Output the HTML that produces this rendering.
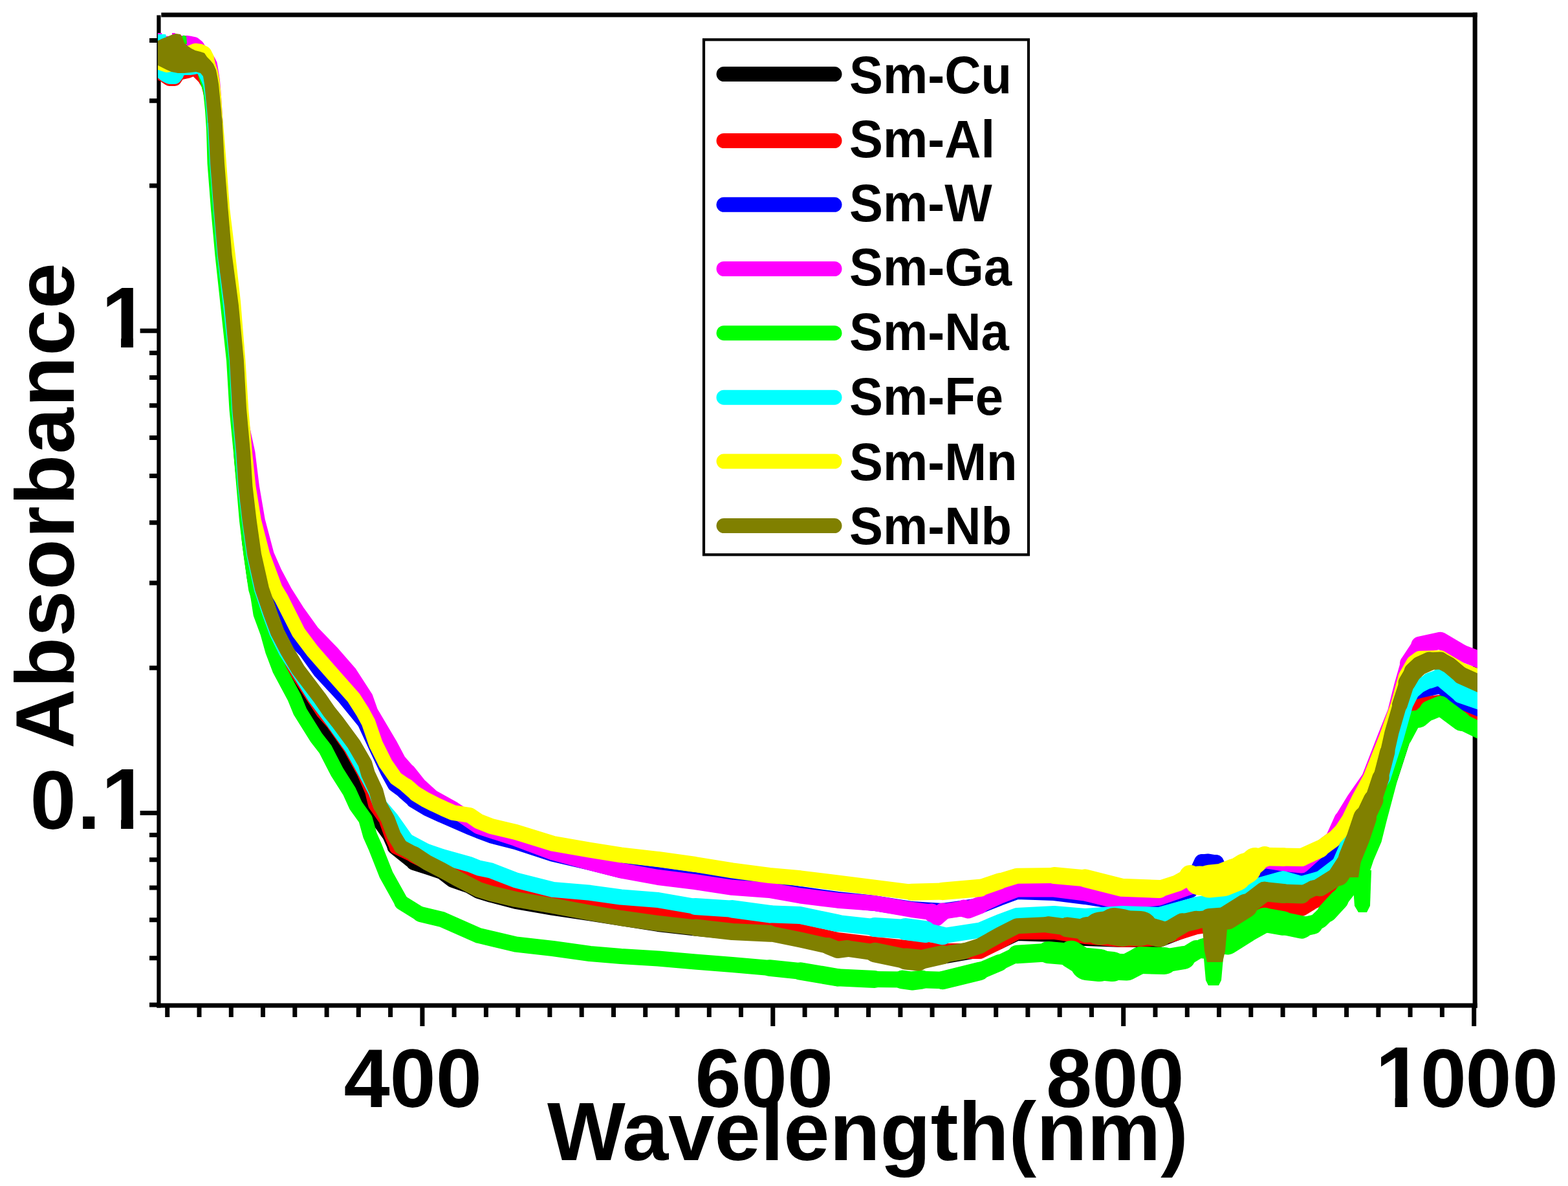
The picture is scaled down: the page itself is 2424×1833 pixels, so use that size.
<!DOCTYPE html>
<html><head><meta charset="utf-8"><title>Absorbance vs Wavelength</title>
<style>html,body{margin:0;padding:0;background:#fff;}svg{display:block}</style></head>
<body>
<svg width="2424" height="1833" viewBox="0 0 2424 1833" xmlns="http://www.w3.org/2000/svg">
<rect width="2424" height="1833" fill="#fff"/>
<path d="M249.3,23.0H2283.8" stroke="#000" stroke-width="7.2" fill="none"/><path d="M2280.2,19.4V1557.8" stroke="#000" stroke-width="7.1" fill="none"/><path d="M242.5,1554.0H2283.8" stroke="#000" stroke-width="7.2" fill="none"/><path d="M245.45,23.5V1557.6" stroke="#000" stroke-width="6.2" fill="none"/><path d="M231.0,1553.0H245.5 M231.0,1480.8H245.5 M231.0,1421.8H245.5 M231.0,1371.9H245.5 M231.0,1328.7H245.5 M231.0,1290.6H245.5 M216.6,1256.5H245.5 M231.0,1032.2H245.5 M231.0,900.9H245.5 M231.0,807.8H245.5 M231.0,735.6H245.5 M231.0,676.6H245.5 M231.0,626.7H245.5 M231.0,583.5H245.5 M231.0,545.4H245.5 M216.6,511.3H245.5 M231.0,287.0H245.5 M231.0,155.7H245.5 M231.0,62.6H245.5 M652.9,1554.0V1586 M603.6,1554.0V1572 M554.3,1554.0V1572 M505.1,1554.0V1572 M455.8,1554.0V1572 M406.5,1554.0V1572 M357.3,1554.0V1572 M308.0,1554.0V1572 M258.7,1554.0V1572 M702.1,1554.0V1572 M751.4,1554.0V1572 M800.7,1554.0V1572 M849.9,1554.0V1572 M899.2,1554.0V1572 M948.5,1554.0V1572 M997.7,1554.0V1572 M1047.0,1554.0V1572 M1096.3,1554.0V1572 M1145.5,1554.0V1572 M1194.8,1554.0V1586 M1244.1,1554.0V1572 M1293.3,1554.0V1572 M1342.6,1554.0V1572 M1391.9,1554.0V1572 M1441.1,1554.0V1572 M1490.4,1554.0V1572 M1539.7,1554.0V1572 M1588.9,1554.0V1572 M1638.2,1554.0V1572 M1687.5,1554.0V1572 M1736.7,1554.0V1586 M1786.0,1554.0V1572 M1835.3,1554.0V1572 M1884.5,1554.0V1572 M1933.8,1554.0V1572 M1983.1,1554.0V1572 M2032.3,1554.0V1572 M2081.6,1554.0V1572 M2130.9,1554.0V1572 M2180.1,1554.0V1572 M2229.4,1554.0V1572 M2278.7,1554.0V1586" stroke="#000" stroke-width="7" fill="none"/>
<defs><clipPath id="pc"><rect x="244" y="0" width="2040" height="1560"/></clipPath></defs>
<g clip-path="url(#pc)" fill="none" stroke-linejoin="round" stroke-linecap="round">
<g stroke="#000000">
<path d="M244.0,95.0 L265.0,100.0 L285.0,100.0 L305.0,98.0 L316.0,110.0 L324.0,130.0 L328.0,160.0 L331.0,190.0 L334.0,252.0 L340.0,323.0 L346.0,395.0 L354.5,470.0 L363.0,557.0 L368.0,633.0 L373.0,710.0 L380.0,780.0 L385.0,837.0 L393.0,895.0 L405.0,952.0 L425.0,1009.0 L450.0,1045.0 L472.0,1078.0 L480.0,1090.0 L496.0,1116.5 L525.0,1155.0 L545.0,1193.0 L559.0,1220.0 L568.0,1243.5 L584.0,1266.0 L602.0,1291.0 L610.0,1309.0" stroke-width="22.0"/>
<path d="M610.0,1309.0 L640.0,1333.0" stroke-width="23.0"/>
<path d="M640.0,1333.0 L662.0,1340.0 L683.0,1347.0 L700.0,1360.0 L726.0,1369.0 L740.0,1377.0 L759.4,1383.0 L797.4,1393.0 L854.8,1403.0 L912.1,1411.5 L969.5,1420.5 L1017.4,1428.0 L1074.8,1434.5 L1132.1,1440.0 L1189.5,1437.0 L1237.4,1442.0 L1294.8,1455.0 L1352.1,1465.0 L1409.5,1475.0 L1457.4,1478.0 L1514.8,1468.0 L1545.0,1455.0 L1572.1,1442.0 L1629.5,1444.0 L1677.4,1450.0 L1734.8,1452.0 L1792.1,1452.0 L1849.5,1430.0 L1900.0,1420.0 L1954.8,1390.0 L1983.5,1395.0 L2012.1,1402.0 L2040.8,1385.0" stroke-width="24.0"/>
<path d="M2040.8,1385.0 L2069.5,1372.0" stroke-width="23.0"/>
<path d="M2069.5,1372.0 L2090.0,1345.0 L2110.0,1300.0 L2128.0,1262.0 L2150.0,1202.0 L2170.0,1140.0 L2190.0,1100.0 L2226.8,1090.0 L2259.0,1098.0 L2288.0,1108.0" stroke-width="22.0"/>
</g>
<g stroke="#ff0000">
<path d="M244.0,112.0 L252.0,115.0 L262.0,122.0 L270.0,122.0 L276.0,113.0 L290.0,110.0 L300.0,106.0 L306.0,110.0 L310.0,114.0 L316.0,120.0 L322.0,130.0 L327.0,150.0 L330.0,170.0 L332.0,200.0 L335.0,252.0 L340.0,323.0 L346.0,395.0 L354.5,470.0 L363.0,557.0 L367.5,633.0 L374.0,700.0 L378.0,752.6 L384.0,805.0 L391.0,857.7 L402.0,910.0 L414.0,948.7 L425.0,977.4 L439.0,1006.0 L459.7,1040.0 L484.5,1078.0 L499.0,1100.0 L514.0,1116.5 L541.0,1155.0 L562.0,1193.0 L575.0,1223.0 L580.0,1243.5 L596.0,1266.0 L605.0,1291.0 L613.0,1309.0" stroke-width="22.0"/>
<path d="M613.0,1309.0 L640.0,1322.0" stroke-width="23.0"/>
<path d="M640.0,1322.0 L668.0,1336.0 L700.0,1352.0 L726.4,1360.0 L740.0,1364.0 L797.4,1380.0 L854.8,1390.0 L912.1,1400.0 L969.5,1410.0 L1017.4,1414.0 L1074.8,1421.0 L1132.1,1428.0 L1189.5,1432.0 L1237.4,1440.0 L1294.8,1453.0 L1352.1,1460.0 L1409.5,1466.0 L1457.4,1470.0 L1514.8,1470.0 L1545.0,1455.0 L1572.1,1440.0 L1629.5,1440.0 L1677.4,1447.0 L1734.8,1452.0 L1792.1,1450.0 L1849.5,1432.0 L1900.0,1425.0 L1954.8,1392.0 L1983.5,1397.0 L2012.1,1404.0 L2030.0,1393.0 L2051.5,1384.0" stroke-width="24.0"/>
<path d="M2051.5,1384.0 L2069.5,1364.0" stroke-width="23.0"/>
<path d="M2069.5,1364.0 L2080.0,1354.0 L2090.0,1335.0 L2110.0,1280.0 L2135.0,1210.0 L2155.0,1150.0 L2170.0,1110.0 L2194.6,1088.0 L2226.8,1085.0 L2259.0,1094.0 L2288.0,1107.0" stroke-width="22.0"/>
</g>
<g stroke="#0000ff">
<path d="M244.0,72.0 L270.0,72.0 L290.0,78.0 L305.0,88.0 L316.0,100.0 L324.0,120.0 L328.0,150.0 L331.0,190.0 L335.0,252.0 L341.0,323.0 L347.7,395.0 L358.0,466.0 L366.0,557.0 L371.0,633.0 L378.0,710.0 L386.0,780.0 L394.0,837.0 L410.0,895.0 L421.6,920.0 L432.4,948.7 L443.5,977.4 L472.0,1006.0 L494.0,1037.0 L532.0,1078.0 L563.0,1116.0 L581.0,1155.0 L599.0,1193.0 L610.0,1213.0 L625.0,1224.0" stroke-width="22.0"/>
<path d="M625.0,1224.0 L640.0,1237.0" stroke-width="23.0"/>
<path d="M640.0,1237.0 L660.0,1249.0 L683.4,1259.8 L726.4,1278.4 L740.0,1284.0 L759.4,1291.3 L797.4,1301.2 L854.8,1319.8 L912.1,1333.0 L960.0,1345.0 L1017.4,1352.0 L1074.8,1360.0 L1132.1,1368.0 L1189.5,1374.0 L1237.4,1382.0 L1294.8,1390.0 L1352.1,1396.0 L1409.5,1405.0 L1457.4,1408.0 L1514.8,1400.0 L1545.0,1388.0 L1572.1,1378.0 L1629.5,1380.0 L1677.4,1386.0 L1734.8,1395.0 L1792.1,1390.0 L1840.0,1376.0 L1852.0,1345.0 L1858.0,1332.0" stroke-width="24.0"/>
<path d="M1858.0,1332.0 L1868.0,1331.0 L1880.0,1333.0" stroke-width="23.0"/>
<path d="M1880.0,1333.0 L1888.0,1350.0 L1900.0,1360.0 L1954.8,1346.0 L1983.5,1352.0 L2012.1,1352.0 L2040.8,1333.0 L2060.0,1320.0" stroke-width="24.0"/>
<path d="M2060.0,1320.0 L2072.0,1308.0" stroke-width="23.0"/>
<path d="M2072.0,1308.0 L2080.0,1295.0 L2090.0,1270.0 L2120.0,1210.0 L2145.0,1140.0 L2158.0,1100.0 L2172.0,1075.0 L2194.6,1068.0 L2226.8,1061.0 L2259.0,1085.0 L2288.0,1097.0" stroke-width="22.0"/>
</g>
<g stroke="#ff00ff">
<path d="M244.0,66.0 L262.0,67.0 L280.0,66.0 L288.0,66.0 L295.0,67.0 L300.0,68.0 L305.0,72.0 L310.0,80.0 L316.0,88.0 L322.0,94.0 L325.0,100.0 L327.0,112.0 L329.0,125.0 L331.0,150.0 L333.0,180.0 L335.0,215.0 L338.0,252.0 L343.0,323.0 L349.0,395.0 L357.0,470.0 L365.0,557.0 L370.0,633.0 L377.0,670.0 L383.5,700.0 L390.0,752.6 L399.0,805.0 L413.0,857.7 L425.0,885.0 L441.0,915.0 L460.0,945.0 L483.0,977.0 L514.0,1009.0 L541.0,1040.0 L565.6,1078.0 L573.4,1100.0 L590.0,1128.0 L603.0,1150.0 L616.6,1175.6 L631.7,1193.0" stroke-width="22.0"/>
<path d="M631.7,1193.0 L650.0,1216.0" stroke-width="23.0"/>
<path d="M650.0,1216.0 L667.6,1232.0 L700.0,1250.0 L740.0,1277.3 L797.4,1295.9 L854.8,1317.5 L912.1,1333.2 L960.0,1345.5 L1017.4,1356.0 L1074.8,1363.2 L1132.1,1371.8 L1189.5,1376.0 L1237.4,1384.5 L1294.8,1391.7 L1352.1,1396.0 L1409.5,1406.0 L1440.0,1410.0" stroke-width="24.0"/>
<path d="M1440.0,1410.0 L1447.0,1418.0 L1457.4,1409.0" stroke-width="27.0"/>
<path d="M1457.4,1409.0 L1490.0,1404.0" stroke-width="24.0"/>
<path d="M1490.0,1404.0 L1497.0,1406.0 L1514.8,1399.0" stroke-width="27.0"/>
<path d="M1514.8,1399.0 L1545.0,1385.0 L1572.1,1374.5 L1629.5,1374.5 L1677.4,1380.5 L1734.8,1394.5 L1792.1,1387.5 L1849.5,1367.5 L1900.0,1362.0 L1954.8,1330.0 L1983.5,1334.5 L2012.1,1337.5 L2040.8,1312.0 L2060.0,1297.0" stroke-width="24.0"/>
<path d="M2060.0,1297.0 L2074.0,1266.0" stroke-width="23.0"/>
<path d="M2074.0,1266.0 L2093.0,1235.0 L2116.0,1202.0 L2140.0,1140.0 L2156.0,1100.0 L2166.0,1060.0 L2176.0,1025.0" stroke-width="22.0"/>
<path d="M2176.0,1025.0 L2194.6,997.0" stroke-width="24.0"/>
<path d="M2194.6,997.0 L2226.8,990.0 L2259.0,1009.0" stroke-width="26.5"/>
<path d="M2259.0,1009.0 L2288.0,1020.0" stroke-width="26.0"/>
<path d="M244.0,51.0 L250.0,51.0 L251.0,57.0 L244.0,57.0Z" fill="#ff00ff" stroke="none"/>
<path d="M266.0,51.0 L271.0,51.0 L271.0,56.0 L266.0,56.0Z" fill="#ff00ff" stroke="none"/>
</g>
<g stroke="#00ff00">
<path d="M244.0,80.0 L262.0,80.0 L276.0,80.0 L285.0,82.0 L292.0,86.0 L300.0,90.0 L308.0,96.0 L314.0,104.0 L318.0,118.0 L325.0,140.0 L328.0,170.0 L330.0,200.0 L331.5,252.0 L337.0,323.0 L343.5,395.0 L352.0,473.0 L361.0,557.0 L365.5,633.0 L372.0,700.0 L376.5,752.6 L381.0,805.0 L387.5,857.7 L395.0,910.0 L398.0,920.0 L402.4,948.7 L413.0,977.4 L421.0,1006.0 L432.0,1035.0 L455.0,1078.0 L464.0,1100.0 L474.0,1116.0 L489.0,1140.0 L503.0,1158.0 L521.0,1193.0 L540.0,1223.0 L550.0,1245.0 L565.0,1266.0 L572.0,1291.0 L580.0,1309.0 L597.0,1352.0 L621.0,1395.0" stroke-width="22.0"/>
<path d="M621.0,1395.0 L650.0,1413.0" stroke-width="23.0"/>
<path d="M650.0,1413.0 L683.4,1421.0 L740.0,1445.9 L797.4,1459.5 L854.8,1466.0 L912.1,1474.0 L960.0,1478.0 L1017.4,1481.5 L1074.8,1486.5 L1132.1,1491.0 L1189.5,1496.0" stroke-width="24.0"/>
<path d="M1189.5,1496.0 L1237.4,1501.0" stroke-width="25.5"/>
<path d="M1237.4,1501.0 L1294.8,1510.7" stroke-width="27.5"/>
<path d="M1294.8,1510.7 L1352.1,1513.6" stroke-width="27.0"/>
<path d="M1352.1,1513.6 L1395.0,1514.0" stroke-width="25.0"/>
<path d="M1395.0,1514.0 L1409.5,1516.0 L1425.0,1514.0" stroke-width="29.0"/>
<path d="M1425.0,1514.0 L1457.4,1515.0" stroke-width="26.5"/>
<path d="M1457.4,1515.0 L1514.8,1500.8" stroke-width="28.5"/>
<path d="M1514.8,1500.8 L1545.0,1488.0" stroke-width="26.0"/>
<path d="M1545.0,1488.0 L1572.1,1475.0" stroke-width="24.0"/>
<path d="M1572.1,1475.0 L1620.0,1472.0" stroke-width="28.5"/>
<path d="M1620.0,1472.0 L1656.0,1475.0" stroke-width="34.0"/>
<path d="M1656.0,1475.0 L1680.0,1490.0" stroke-width="42.5"/>
<path d="M1680.0,1490.0 L1700.0,1492.0" stroke-width="50.0"/>
<path d="M1700.0,1492.0 L1720.0,1494.0" stroke-width="46.0"/>
<path d="M1720.0,1494.0 L1742.0,1495.0 L1763.0,1484.0" stroke-width="41.0"/>
<path d="M1763.0,1484.0 L1800.0,1485.0" stroke-width="42.0"/>
<path d="M1800.0,1485.0 L1830.0,1480.0" stroke-width="36.0"/>
<path d="M1830.0,1480.0 L1849.5,1468.0" stroke-width="30.0"/>
<path d="M1849.5,1468.0 L1860.0,1466.0" stroke-width="27.0"/>
<path d="M1860.0,1466.0 L1897.4,1456.0" stroke-width="31.0"/>
<path d="M1897.4,1456.0 L1926.0,1438.0" stroke-width="39.0"/>
<path d="M1926.0,1438.0 L1954.8,1422.0" stroke-width="38.5"/>
<path d="M1954.8,1422.0 L1983.5,1427.0" stroke-width="37.5"/>
<path d="M1983.5,1427.0 L2012.1,1433.0" stroke-width="35.5"/>
<path d="M2012.1,1433.0 L2030.0,1429.0" stroke-width="29.5"/>
<path d="M2030.0,1429.0 L2040.8,1421.0" stroke-width="26.0"/>
<path d="M2040.8,1421.0 L2052.0,1410.0" stroke-width="27.0"/>
<path d="M2052.0,1410.0 L2069.5,1391.0" stroke-width="30.5"/>
<path d="M2069.5,1391.0 L2090.0,1365.0" stroke-width="27.5"/>
<path d="M2090.0,1365.0 L2105.0,1350.0 L2113.0,1326.0 L2125.0,1298.0 L2133.0,1266.0 L2150.0,1202.0 L2170.0,1140.0" stroke-width="22.0"/>
<path d="M2170.0,1140.0 L2185.0,1112.0" stroke-width="25.0"/>
<path d="M2185.0,1112.0 L2194.6,1111.0 L2210.0,1098.0" stroke-width="27.0"/>
<path d="M2210.0,1098.0 L2226.8,1091.0" stroke-width="31.0"/>
<path d="M2226.8,1091.0 L2259.0,1115.0" stroke-width="30.0"/>
<path d="M2259.0,1115.0 L2288.0,1129.0" stroke-width="26.0"/>
<path d="M280.0,57.0 L284.0,54.5 L288.0,56.0 L289.0,68.0 L281.0,68.0Z" fill="#00ff00" stroke="none"/>
<path d="M1860.0,1470.0 L1864.0,1515.0 L1868.0,1523.0 L1884.0,1523.0 L1888.0,1515.0 L1892.0,1470.0Z" fill="#00ff00" stroke="none"/>
<path d="M2090.0,1345.0 L2094.0,1400.0 L2100.0,1410.0 L2113.0,1410.0 L2118.0,1400.0 L2120.0,1345.0Z" fill="#00ff00" stroke="none"/>
</g>
<g stroke="#00ffff">
<path d="M244.0,107.0 L250.0,111.0 L256.0,116.0 L262.0,119.0 L270.0,119.0 L273.0,115.0 L276.0,107.0 L285.0,105.0 L293.0,105.0 L300.0,104.0 L305.0,103.0 L310.0,104.0 L315.0,108.0 L320.0,118.0 L325.0,130.0 L328.0,150.0 L330.0,170.0 L332.0,200.0 L335.0,252.0 L340.5,323.0 L346.7,395.0 L356.0,473.0 L365.0,557.0 L369.0,633.0 L375.0,700.0 L378.5,752.6 L384.7,805.0 L392.0,857.7 L403.5,910.0 L416.5,948.7 L427.0,977.4 L441.0,1006.0 L462.6,1040.0 L486.5,1078.0 L515.5,1116.5 L543.0,1155.0 L564.0,1193.0 L580.0,1223.0 L588.0,1245.0 L606.0,1266.0 L630.0,1300.0" stroke-width="22.0"/>
<path d="M630.0,1300.0 L660.0,1316.0" stroke-width="23.0"/>
<path d="M660.0,1316.0 L683.4,1324.0 L726.4,1336.0 L740.0,1341.5 L759.4,1345.6 L797.4,1360.4 L854.8,1374.9 L912.1,1379.8 L960.0,1386.5 L1017.4,1391.0 L1074.8,1401.0" stroke-width="24.0"/>
<path d="M1074.8,1401.0 L1132.1,1404.8" stroke-width="26.0"/>
<path d="M1132.1,1404.8 L1189.5,1412.7" stroke-width="27.5"/>
<path d="M1189.5,1412.7 L1237.4,1414.6 L1294.8,1426.8" stroke-width="27.0"/>
<path d="M1294.8,1426.8 L1352.1,1433.0" stroke-width="25.5"/>
<path d="M1352.1,1433.0 L1400.0,1436.0" stroke-width="30.0"/>
<path d="M1400.0,1436.0 L1430.0,1440.0" stroke-width="34.0"/>
<path d="M1430.0,1440.0 L1457.4,1446.3" stroke-width="28.0"/>
<path d="M1457.4,1446.3 L1514.8,1437.7 L1545.0,1425.0 L1572.1,1415.0 L1629.5,1412.0 L1677.4,1416.0 L1734.8,1412.0 L1792.1,1414.0 L1849.5,1398.0 L1897.4,1390.0 L1926.0,1374.0 L1954.8,1366.0 L1983.5,1358.0 L2012.1,1366.0 L2040.8,1358.0" stroke-width="24.0"/>
<path d="M2040.8,1358.0 L2069.5,1336.0" stroke-width="23.0"/>
<path d="M2069.5,1336.0 L2085.0,1300.0 L2100.0,1265.0 L2139.0,1202.0 L2159.2,1140.0 L2173.4,1089.0 L2183.0,1070.0 L2194.6,1060.0 L2210.0,1052.0" stroke-width="22.0"/>
<path d="M2210.0,1052.0 L2226.8,1046.0" stroke-width="24.5"/>
<path d="M2226.8,1046.0 L2259.0,1073.0" stroke-width="27.5"/>
<path d="M2259.0,1073.0 L2288.0,1083.0" stroke-width="28.0"/>
<path d="M244.0,53.0 L256.0,53.0 L258.0,60.0 L252.0,64.0 L244.0,64.0Z" fill="#00ffff" stroke="none"/>
</g>
<g stroke="#ffff00">
<path d="M244.0,96.0 L258.0,101.0 L270.0,99.0 L280.0,90.0 L292.0,82.0 L302.0,78.0 L310.0,79.0 L316.0,82.0 L320.0,90.0 L322.0,100.0 L326.0,112.0 L328.5,125.0 L331.0,150.0 L333.0,180.0 L336.0,215.0 L339.0,252.0 L344.2,323.0 L353.0,395.0 L361.0,466.0 L368.4,557.0 L373.2,633.0 L379.0,700.0 L384.5,752.6 L393.0,805.0 L406.5,857.7 L426.0,910.0 L435.0,925.0 L447.0,948.7 L461.5,977.4 L483.0,1006.0 L512.7,1040.0 L546.6,1078.3 L560.5,1100.0 L569.5,1116.5 L581.0,1150.0 L596.0,1180.0 L612.0,1203.0 L628.7,1214.5" stroke-width="22.0"/>
<path d="M628.7,1214.5 L643.0,1227.0" stroke-width="23.0"/>
<path d="M643.0,1227.0 L657.4,1235.7 L671.7,1243.0 L686.0,1249.7 L700.4,1256.0 L726.4,1260.0 L740.0,1269.4 L759.4,1277.0 L797.4,1286.0 L854.8,1303.8 L912.1,1313.8 L960.0,1321.3 L1017.4,1328.0 L1074.8,1336.0 L1132.1,1345.3 L1189.5,1353.0 L1237.4,1357.3 L1294.8,1364.5 L1352.1,1371.7 L1409.5,1378.8" stroke-width="24.0"/>
<path d="M1409.5,1378.8 L1457.4,1377.4" stroke-width="26.0"/>
<path d="M1457.4,1377.4 L1514.8,1372.4" stroke-width="27.5"/>
<path d="M1514.8,1372.4 L1545.0,1362.0" stroke-width="25.5"/>
<path d="M1545.0,1362.0 L1572.1,1353.8 L1629.5,1353.0" stroke-width="24.0"/>
<path d="M1629.5,1353.0 L1677.4,1357.4" stroke-width="26.0"/>
<path d="M1677.4,1357.4 L1734.8,1371.8 L1792.1,1374.0" stroke-width="28.0"/>
<path d="M1792.1,1374.0 L1820.0,1365.0 L1840.0,1354.0" stroke-width="26.0"/>
<path d="M1840.0,1354.0 L1854.0,1361.0" stroke-width="34.0"/>
<path d="M1854.0,1361.0 L1870.0,1362.0" stroke-width="45.0"/>
<path d="M1870.0,1362.0 L1890.0,1360.0 L1910.0,1352.0" stroke-width="51.0"/>
<path d="M1910.0,1352.0 L1926.0,1342.0" stroke-width="47.5"/>
<path d="M1926.0,1342.0 L1940.0,1330.0" stroke-width="40.0"/>
<path d="M1940.0,1330.0 L1955.0,1324.0" stroke-width="32.0"/>
<path d="M1955.0,1324.0 L1983.5,1324.5" stroke-width="28.5"/>
<path d="M1983.5,1324.5 L2012.1,1325.0" stroke-width="28.0"/>
<path d="M2012.1,1325.0 L2040.8,1312.0" stroke-width="27.5"/>
<path d="M2040.8,1312.0 L2060.0,1298.0" stroke-width="25.5"/>
<path d="M2060.0,1298.0 L2072.6,1285.0" stroke-width="23.0"/>
<path d="M2072.6,1285.0 L2085.0,1266.0 L2100.0,1235.0 L2118.0,1202.0 L2142.6,1140.0 L2160.9,1089.0 L2172.6,1046.0 L2185.0,1024.0 L2194.6,1017.0 L2226.8,1016.0 L2259.0,1035.0 L2288.0,1046.0" stroke-width="22.0"/>
</g>
<g stroke="#808000">
<path d="M332.5,185.0 L336.0,252.0 L341.5,323.0 L347.7,395.0 L358.0,473.0 L365.9,557.0 L370.1,633.0 L376.2,700.0 L379.5,752.6 L385.7,805.0 L393.2,857.7 L405.0,910.0 L418.3,948.7 L429.0,977.4 L443.9,1006.0 L461.0,1034.8 L494.0,1078.3 L509.0,1100.0 L522.3,1116.5 L547.0,1150.0 L564.4,1180.0 L569.0,1196.0 L581.6,1223.0 L587.0,1243.5 L599.5,1266.0 L609.0,1291.0 L620.0,1309.0" stroke-width="22.0"/>
<path d="M620.0,1309.0 L640.4,1320.0" stroke-width="23.0"/>
<path d="M640.4,1320.0 L660.0,1333.0 L683.4,1345.0 L705.0,1357.0 L726.4,1368.0 L740.0,1375.0 L759.4,1381.0 L797.4,1390.0 L854.8,1400.0 L912.1,1410.7 L960.0,1419.0 L1017.4,1427.0 L1074.8,1433.5" stroke-width="24.0"/>
<path d="M1074.8,1433.5 L1132.1,1440.0 L1189.5,1442.8" stroke-width="26.0"/>
<path d="M1189.5,1442.8 L1237.4,1452.6 L1280.0,1462.0" stroke-width="24.0"/>
<path d="M1280.0,1462.0 L1294.8,1468.0 L1310.0,1466.0" stroke-width="26.0"/>
<path d="M1310.0,1466.0 L1352.1,1472.0" stroke-width="25.5"/>
<path d="M1352.1,1472.0 L1400.0,1482.0" stroke-width="30.5"/>
<path d="M1400.0,1482.0 L1420.0,1484.0" stroke-width="33.0"/>
<path d="M1420.0,1484.0 L1457.4,1475.7" stroke-width="29.5"/>
<path d="M1457.4,1475.7 L1490.0,1470.0" stroke-width="25.5"/>
<path d="M1490.0,1470.0 L1514.8,1462.0 L1545.0,1445.0 L1572.1,1431.2 L1620.0,1429.0" stroke-width="24.0"/>
<path d="M1620.0,1429.0 L1650.0,1433.0" stroke-width="25.5"/>
<path d="M1650.0,1433.0 L1680.0,1437.0" stroke-width="31.0"/>
<path d="M1680.0,1437.0 L1700.0,1435.0" stroke-width="39.5"/>
<path d="M1700.0,1435.0 L1723.0,1432.0" stroke-width="51.0"/>
<path d="M1723.0,1432.0 L1735.0,1434.0" stroke-width="58.0"/>
<path d="M1735.0,1434.0 L1763.0,1435.0" stroke-width="54.0"/>
<path d="M1763.0,1435.0 L1792.0,1443.0" stroke-width="41.5"/>
<path d="M1792.0,1443.0 L1806.0,1440.0" stroke-width="34.0"/>
<path d="M1806.0,1440.0 L1828.0,1427.0" stroke-width="31.5"/>
<path d="M1828.0,1427.0 L1849.5,1422.0" stroke-width="28.5"/>
<path d="M1849.5,1422.0 L1870.0,1420.0" stroke-width="26.5"/>
<path d="M1870.0,1420.0 L1897.4,1418.0" stroke-width="32.0"/>
<path d="M1897.4,1418.0 L1926.0,1400.0" stroke-width="37.0"/>
<path d="M1926.0,1400.0 L1954.8,1378.0" stroke-width="31.0"/>
<path d="M1954.8,1378.0 L1983.5,1381.0" stroke-width="30.0"/>
<path d="M1983.5,1381.0 L2012.1,1382.0" stroke-width="29.0"/>
<path d="M2012.1,1382.0 L2030.0,1373.0" stroke-width="24.5"/>
<path d="M2030.0,1373.0 L2040.8,1371.0" stroke-width="25.0"/>
<path d="M2040.8,1371.0 L2069.5,1353.0" stroke-width="28.5"/>
<path d="M2069.5,1353.0 L2087.0,1326.0" stroke-width="32.0"/>
<path d="M2087.0,1326.0 L2099.6,1295.0 L2110.0,1264.0" stroke-width="36.0"/>
<path d="M2110.0,1264.0 L2123.0,1236.5" stroke-width="31.0"/>
<path d="M2123.0,1236.5 L2134.5,1202.0" stroke-width="26.5"/>
<path d="M2134.5,1202.0 L2144.7,1162.4" stroke-width="23.5"/>
<path d="M2144.7,1162.4 L2151.5,1132.0 L2164.0,1089.0" stroke-width="22.0"/>
<path d="M2164.0,1089.0 L2175.0,1055.0" stroke-width="24.0"/>
<path d="M2175.0,1055.0 L2185.0,1038.0" stroke-width="27.0"/>
<path d="M2185.0,1038.0 L2194.6,1029.0 L2210.0,1022.0" stroke-width="29.0"/>
<path d="M2210.0,1022.0 L2226.8,1021.0" stroke-width="27.0"/>
<path d="M2226.8,1021.0 L2240.0,1028.0 L2259.0,1044.0" stroke-width="26.0"/>
<path d="M2259.0,1044.0 L2288.0,1057.0" stroke-width="27.0"/>
<path d="M244.0,63.0 L250.0,60.0 L258.0,57.0 L265.0,54.0 L272.0,52.0 L279.0,53.0 L282.0,58.0 L285.0,66.0 L290.0,71.0 L296.0,75.0 L302.0,78.0 L310.0,80.0 L316.0,82.0 L320.0,88.0 L325.0,93.0 L330.0,99.0 L334.0,108.0 L336.0,118.0 L338.0,130.0 L340.0,150.0 L342.0,170.0 L343.5,190.0 L321.5,190.0 L320.0,170.0 L318.0,150.0 L316.0,130.0 L314.0,118.0 L310.0,113.0 L303.0,111.0 L295.0,112.0 L285.0,113.0 L275.0,113.0 L265.0,111.0 L258.0,108.0 L250.0,104.0 L244.0,101.0Z" fill="#808000" stroke="none"/>
<path d="M1858.0,1425.0 L1862.0,1470.0 L1866.0,1487.0 L1890.0,1487.0 L1894.0,1470.0 L1898.0,1425.0Z" fill="#808000" stroke="none"/>
<path d="M2078.0,1330.0 L2082.0,1356.0 L2100.0,1356.0 L2104.0,1330.0Z" fill="#808000" stroke="none"/>
</g>
</g>
<rect x="1088" y="61.3" width="502" height="796" fill="#fff" stroke="#000" stroke-width="4.2"/>
<g stroke-width="23" stroke-linecap="round">
<path d="M1119,114.6H1290" stroke="#000000"/>
<path d="M1119,217.5H1290" stroke="#ff0000"/>
<path d="M1119,316.3H1290" stroke="#0000ff"/>
<path d="M1119,415.5H1290" stroke="#ff00ff"/>
<path d="M1119,514.7H1290" stroke="#00ff00"/>
<path d="M1119,614.2H1290" stroke="#00ffff"/>
<path d="M1119,713.1H1290" stroke="#ffff00"/>
<path d="M1119,812.6H1290" stroke="#808000"/>
</g>
<g font-family="Liberation Sans, Arial, sans-serif" font-weight="bold" font-size="82" fill="#000" transform="translate(1313,0) scale(0.95,1)">
<text x="0" y="143.9">Sm-Cu</text>
<text x="0" y="242.9">Sm-Al</text>
<text x="0" y="342">Sm-W</text>
<text x="0" y="441.1">Sm-Ga</text>
<text x="0" y="541">Sm-Na</text>
<text x="0" y="641">Sm-Fe</text>
<text x="0" y="742.1">Sm-Mn</text>
<text x="0" y="841.1">Sm-Nb</text>
</g>

<defs>
<clipPath id="c1"><rect x="0" y="0" width="260" height="523"/><rect x="187.1" y="500" width="18.9" height="60"/></clipPath>
<clipPath id="c01"><rect x="0" y="1150" width="260" height="117"/><rect x="0" y="1150" width="163.9" height="200"/><rect x="187.1" y="1250" width="18.9" height="60"/></clipPath>
<clipPath id="c1000"><rect x="2100" y="1600" width="324" height="97"/><rect x="2156.6" y="1600" width="18.9" height="150"/><rect x="2197.6" y="1600" width="228" height="150"/></clipPath>
</defs>
<g font-family="Liberation Sans, Arial, sans-serif" font-weight="bold" fill="#000">
<text x="531.4" y="1711" font-size="128">400</text>
<text x="1074.5" y="1711" font-size="128">600</text>
<text x="1617" y="1711" font-size="128">800</text>
<text y="1711" font-size="128" clip-path="url(#c1000)"><tspan x="2126.1" font-size="133">1</tspan><tspan x="2195.8">0</tspan><tspan x="2265.4">0</tspan><tspan x="2337.8">0</tspan></text>
<text x="156.6" y="537" font-size="133" clip-path="url(#c1)">1</text>
<text y="1281" font-size="128" clip-path="url(#c01)"><tspan x="46.6">0</tspan><tspan x="119.4">.</tspan><tspan x="156.6" font-size="133">1</tspan></text>
<text x="846" y="1793" font-size="128">Wavelength(nm)</text>
<text transform="translate(114,1157) rotate(-90)" font-size="128" textLength="751" lengthAdjust="spacing">Absorbance</text>
</g>

</svg>
</body></html>
